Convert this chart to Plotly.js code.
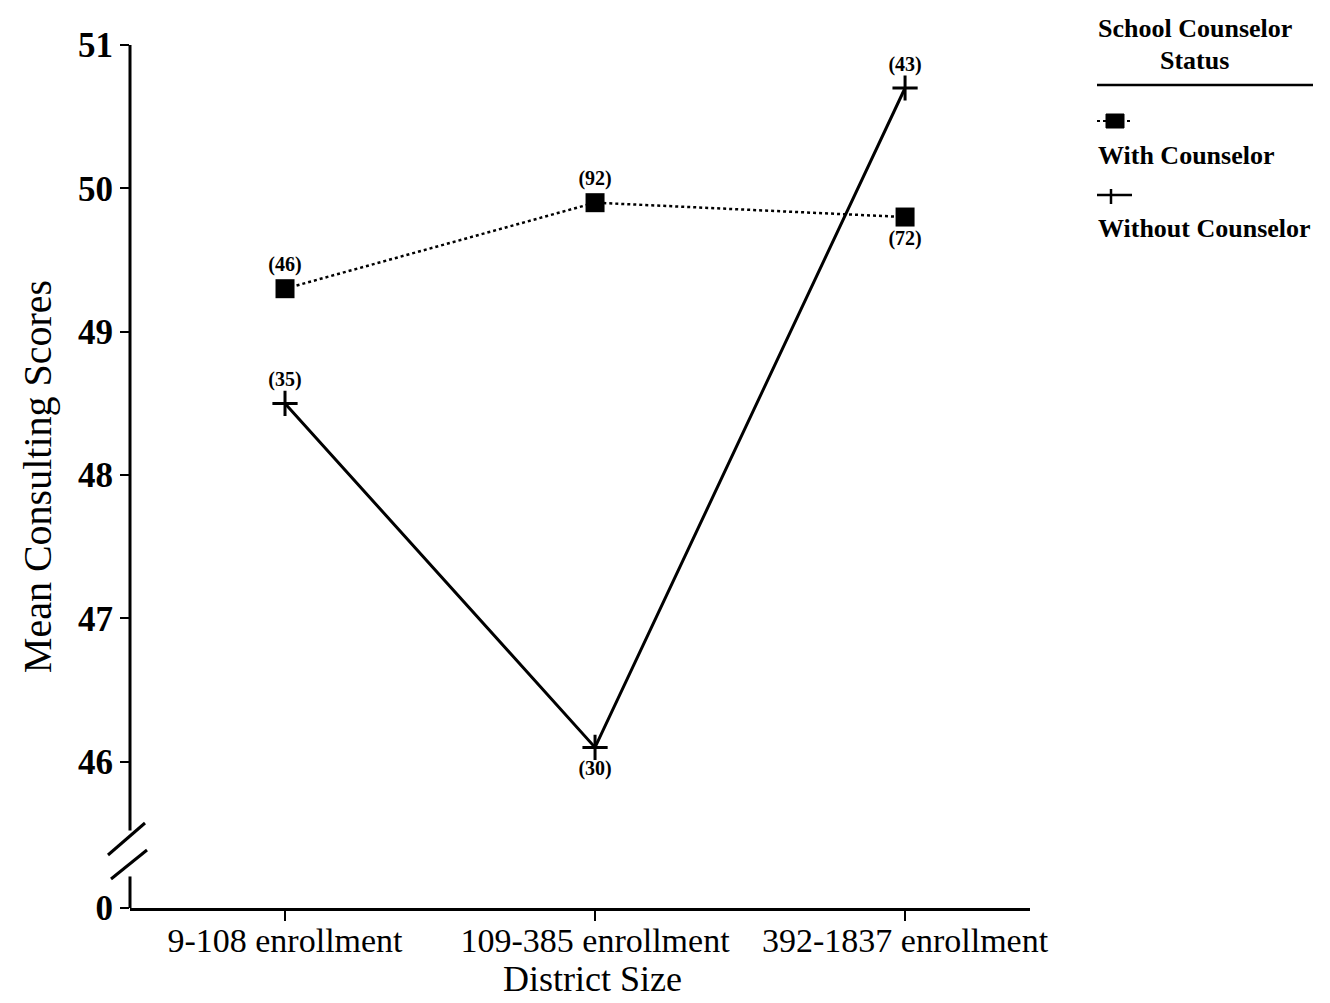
<!DOCTYPE html>
<html>
<head>
<meta charset="utf-8">
<script src="https://cdn.plot.ly/plotly-3.0.1.min.js"></script>
<style>html,body{margin:0;padding:0;background:#fff;}#chart{width:1330px;height:1003px;}</style>
</head>
<body>
<div id="chart"></div>
<script>
// ---- data ----
const categories = ["9-108 enrollment", "109-385 enrollment", "392-1837 enrollment"];
const withCounselor = [49.3, 49.9, 49.8];
const withCounselorN = ["(46)", "(92)", "(72)"];
const withoutCounselor = [48.5, 46.1, 50.7];
const withoutCounselorN = ["(35)", "(30)", "(43)"];
const yTickVals = [44.98, 46, 47, 48, 49, 50, 51];
const yTickText = ["0", "46", "47", "48", "49", "50", "51"];

// ---- geometry helpers (pixel -> paper) ----
const L = 130, R = 1030, T = 45, B = 908;
const px = x => (x - L) / (R - L);
const py = y => (B - y) / (B - T);

const serif = "Liberation Serif, Times New Roman, serif";

const traces = [
  {
    x: categories, y: withCounselor, text: withCounselorN,
    mode: "lines+markers+text", name: "With Counselor",
    line: {color: "#000", width: 2.5, dash: "dot"},
    marker: {symbol: "square", size: 19, color: "#000"},
    textposition: ["top center", "top center", "bottom center"],
    textfont: {family: serif, size: 20, color: "#000", weight: "bold"},
    cliponaxis: false, showlegend: false
  },
  {
    x: categories, y: withoutCounselor, text: withoutCounselorN,
    mode: "lines+markers+text", name: "Without Counselor",
    line: {color: "#000", width: 3},
    marker: {symbol: "cross-thin", size: 18, color: "#000", line: {color: "#000", width: 3}},
    textposition: ["top center", "bottom center", "top center"],
    textfont: {family: serif, size: 20, color: "#000", weight: "bold"},
    cliponaxis: false, showlegend: false
  }
];

const shapes = [
  // broken y axis
  {type: "line", xref: "paper", yref: "y", x0: 0, x1: 0, y0: 51, y1: 45.52, line: {color: "#000", width: 3}},
  {type: "line", xref: "paper", yref: "y", x0: 0, x1: 0, y0: 45.2, y1: 44.98, line: {color: "#000", width: 3}},
  {type: "line", xref: "paper", yref: "paper", x0: px(108), y0: py(855), x1: px(145), y1: py(823), line: {color: "#000", width: 3}},
  {type: "line", xref: "paper", yref: "paper", x0: px(111), y0: py(879), x1: px(147), y1: py(850), line: {color: "#000", width: 3}},
  // legend rule
  {type: "line", xref: "paper", yref: "paper", x0: px(1097), x1: px(1313), y0: py(85), y1: py(85), line: {color: "#000", width: 2.5}},
  // legend glyph: with counselor
  {type: "line", xref: "paper", yref: "paper", x0: px(1097), x1: px(1133), y0: py(121), y1: py(121), line: {color: "#000", width: 2, dash: "dot"}},
  {type: "rect", xref: "paper", yref: "paper", x0: px(1106), x1: px(1124), y0: py(114), y1: py(128), fillcolor: "#000", line: {color: "#000", width: 1}},
  // legend glyph: without counselor
  {type: "line", xref: "paper", yref: "paper", x0: px(1097), x1: px(1132), y0: py(195), y1: py(195), line: {color: "#000", width: 2.5}},
  {type: "line", xref: "paper", yref: "paper", x0: px(1111), x1: px(1111), y0: py(189), y1: py(204), line: {color: "#000", width: 2.5}}
];

const legendFont = {family: serif, size: 26, color: "#000", weight: "bold"};
const annotations = [
  {xref: "paper", yref: "paper", x: px(1096), y: py(28), xanchor: "left", yanchor: "middle", text: "School Counselor", showarrow: false, font: legendFont},
  {xref: "paper", yref: "paper", x: px(1194), y: py(60), xanchor: "center", yanchor: "middle", text: "Status", showarrow: false, font: legendFont},
  {xref: "paper", yref: "paper", x: px(1096), y: py(155), xanchor: "left", yanchor: "middle", text: "With Counselor", showarrow: false, font: legendFont},
  {xref: "paper", yref: "paper", x: px(1096), y: py(228), xanchor: "left", yanchor: "middle", text: "Without Counselor", showarrow: false, font: legendFont},
  {xref: "paper", yref: "paper", x: px(592), y: py(979), xanchor: "center", yanchor: "middle", text: "District Size", showarrow: false, borderpad: 0, font: {family: serif, size: 36, color: "#000"}}
];

const layout = {
  width: 1330, height: 1003,
  margin: {l: L, r: 1330 - R, t: T, b: 1003 - B, pad: 0},
  paper_bgcolor: "#fff", plot_bgcolor: "#fff",
  font: {family: serif, color: "#000"},
  xaxis: {
    type: "category", range: [-0.5, 2.403],
    showline: true, linecolor: "#000", linewidth: 3,
    ticks: "outside", ticklen: 10, tickwidth: 2, tickcolor: "#000",
    ticklabelstandoff: -10,
    showgrid: false, zeroline: false,
    tickfont: {family: serif, size: 34, color: "#000"}
  },
  yaxis: {
    range: [44.98, 51],
    tickvals: yTickVals, ticktext: yTickText,
    showline: false,
    ticks: "outside", ticklen: 9, tickwidth: 2, tickcolor: "#000",
    showgrid: false, zeroline: false,
    tickfont: {family: serif, size: 35, color: "#000", weight: "bold"},
    title: {text: "Mean Consulting Scores", font: {family: serif, size: 40, color: "#000"}, standoff: 14}
  },
  shapes: shapes,
  annotations: annotations,
  showlegend: false
};

Plotly.newPlot("chart", traces, layout, {displayModeBar: false, staticPlot: true});
</script>
</body>
</html>
